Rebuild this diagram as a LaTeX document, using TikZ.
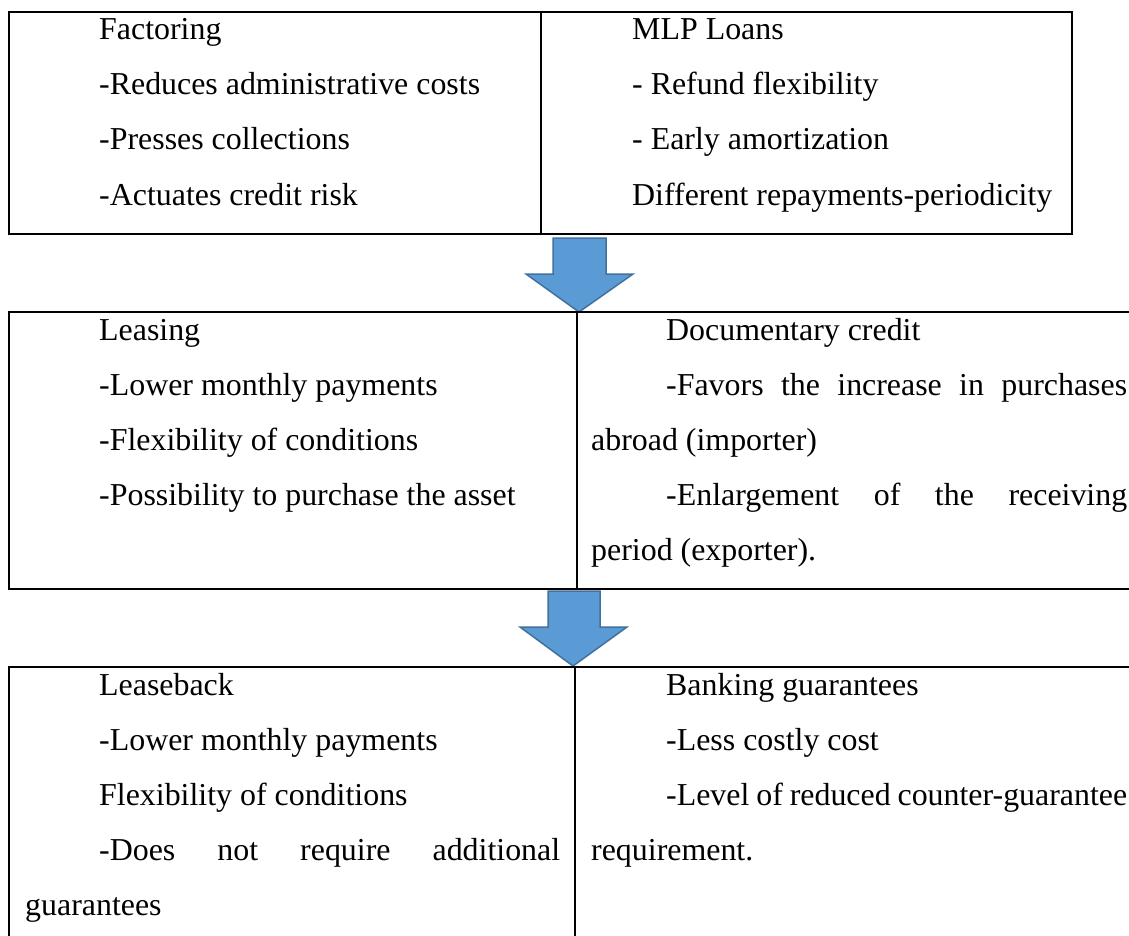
\documentclass[tikz,border=0pt]{standalone}
\usepackage{fontspec}
\setmainfont{Liberation Serif}
\definecolor{arrowfill}{HTML}{5B9BD5}
\definecolor{arrowline}{HTML}{41719C}
\begin{document}
\begin{tikzpicture}[x=1pt,y=-1pt,
  txt/.style={anchor=base west,inner sep=0pt,font=\fontsize{31.9}{38}\selectfont},
  frame/.style={draw=black,line width=2.5pt},
  blockarrow/.style={fill=arrowfill,draw=arrowline,line width=1.5pt,line join=miter}]
\useasboundingbox (0,0) rectangle (1129,936);
\clip (0,0) rectangle (1129,936);
\fill[white] (0,0) rectangle (1129,936);

% justified line of fixed width
\newcommand{\justline}[1]{\makebox[461pt][s]{#1}}

% ---------- first table ----------
\draw[frame] (9,12) rectangle (1072,234);
\draw[frame] (541,12) -- (541,234);
\node[txt] (fa) at (99,40)  {Factoring};
\node[txt] (fb) at (99,95)  {-Reduces administrative costs};
\node[txt] (fc) at (99,150) {-Presses collections};
\node[txt] (fd) at (99,205) {-Actuates credit risk};
\node[txt] (ma) at (632,40)  {MLP Loans};
\node[txt] (mb) at (632,95)  {- Refund flexibility};
\node[txt] (mc) at (632,150) {- Early amortization};
\node[txt] (md) at (632,205) {Different repayments-periodicity};

% ---------- first arrow ----------
\draw[blockarrow] (553,238) -- (606,238) -- (606,274) -- (633,274) -- (579,312)
  -- (526,274) -- (553,274) -- cycle;

% ---------- second table ----------
\draw[frame] (1150,312) -- (9,312) -- (9,589) -- (1150,589);
\draw[frame] (577,312) -- (577,589);
\node[txt] (la) at (99,340) {Leasing};
\node[txt] (lb) at (99,395) {-Lower monthly payments};
\node[txt] (lc) at (99,450) {-Flexibility of conditions};
\node[txt] (ld) at (99,505) {-Possibility to purchase the asset};
\node[txt] (da) at (666,340) {Documentary credit};
\node[txt] (db) at (666,395) {\justline{-Favors the increase in purchases}};
\node[txt] (dc) at (591,450) {abroad (importer)};
\node[txt] (dd) at (666,505) {\justline{-Enlargement of the receiving}};
\node[txt] (de) at (591,560) {period (exporter).};

% ---------- second arrow ----------
\draw[blockarrow] (548,591) -- (600,591) -- (600,627) -- (627,627) -- (573,666)
  -- (520,627) -- (548,627) -- cycle;

% ---------- third table ----------
\draw[frame] (1150,667) -- (9,667) -- (9,950);
\draw[frame] (575,667) -- (575,950);
\node[txt] (ka) at (99,695) {Leaseback};
\node[txt] (kb) at (99,750) {-Lower monthly payments};
\node[txt] (kc) at (99,805) {Flexibility of conditions};
\node[txt] (kd) at (99,860) {\justline{-Does not require additional}};
\node[txt] (ke) at (25,915) {guarantees};
\node[txt] (ga) at (666,695) {Banking guarantees};
\node[txt] (gb) at (666,750) {-Less costly cost};
\node[txt] (gc) at (666,805) {\justline{-Level of reduced counter-guarantee}};
\node[txt] (gd) at (591,860) {requirement.};
\end{tikzpicture}
\end{document}
